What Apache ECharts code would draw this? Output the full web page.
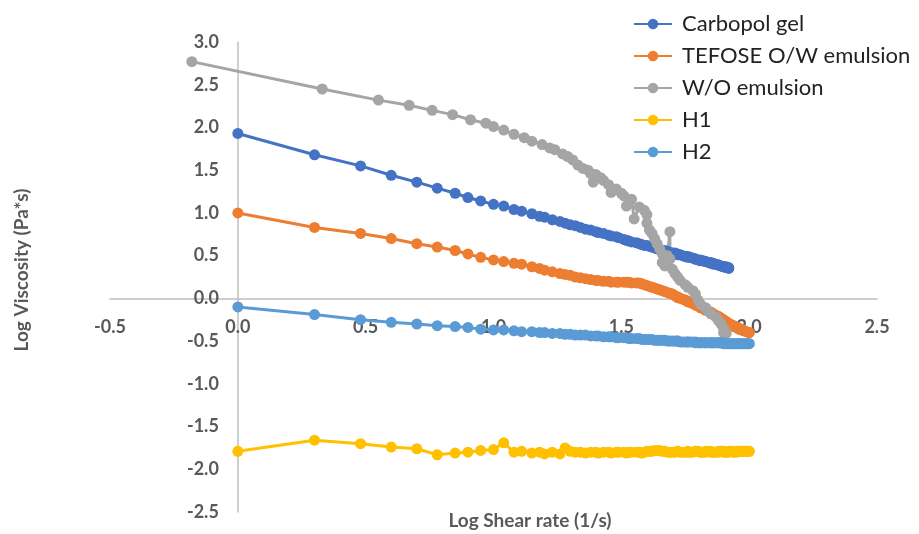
<!DOCTYPE html>
<html>
<head>
<meta charset="utf-8">
<script src="https://cdn.jsdelivr.net/npm/echarts@6/dist/echarts.min.js"></script>
<style>
html,body{margin:0;padding:0;background:#fff;}
#chart{width:919px;height:534px;}
</style>
</head>
<body>
<div id="chart"></div>
<script>
// Log shear rate values for the Carbopol, TEFOSE, H1 and H2 measurements
const shearX = [0.00,0.30,0.48,0.60,0.70,0.78,0.85,0.90,0.95,1.00,
  1.04,1.08,1.11,1.15,1.18,1.20,1.23,1.26,1.28,1.30,
  1.32,1.34,1.36,1.38,1.40,1.41,1.43,1.45,1.46,1.48,
  1.49,1.51,1.52,1.53,1.54,1.56,1.57,1.58,1.59,1.60,
  1.61,1.62,1.63,1.64,1.65,1.66,1.67,1.68,1.69,1.70,
  1.71,1.72,1.72,1.73,1.74,1.75,1.76,1.76,1.77,1.78,
  1.79,1.79,1.80,1.81,1.81,1.82,1.83,1.83,1.84,1.85,
  1.85,1.86,1.86,1.87,1.88,1.88,1.89,1.89,1.90,1.90,
  1.91,1.91,1.92,1.92,1.93,1.93,1.94,1.94,1.95,1.95,
  1.96,1.96,1.97,1.97,1.98,1.98,1.99,1.99,2.00,2.00];

const carbopolY = [1.93,1.68,1.55,1.44,1.36,1.29,1.23,1.18,1.14,1.10,
  1.08,1.04,1.02,0.99,0.96,0.95,0.92,0.90,0.88,0.86,
  0.85,0.83,0.81,0.80,0.78,0.77,0.76,0.74,0.73,0.72,
  0.71,0.69,0.68,0.67,0.66,0.65,0.64,0.63,0.62,0.62,
  0.61,0.60,0.59,0.58,0.57,0.56,0.56,0.55,0.54,0.53,
  0.53,0.52,0.51,0.51,0.50,0.49,0.49,0.48,0.48,0.47,
  0.46,0.46,0.45,0.45,0.44,0.44,0.43,0.43,0.42,0.42,
  0.41,0.41,0.40,0.40,0.39,0.39,0.38,0.38,0.37,0.37,
  0.37,0.36,0.36,0.35];

const tefoseY = [1.00,0.83,0.76,0.70,0.64,0.60,0.56,0.52,0.48,0.45,
  0.43,0.41,0.40,0.37,0.35,0.33,0.31,0.29,0.28,0.27,
  0.25,0.24,0.23,0.22,0.21,0.21,0.20,0.20,0.19,0.19,
  0.19,0.19,0.19,0.19,0.18,0.18,0.18,0.17,0.16,0.15,
  0.14,0.13,0.12,0.11,0.10,0.09,0.08,0.07,0.06,0.05,
  0.03,0.02,0.01,0.00,-0.01,-0.02,-0.03,-0.04,-0.05,-0.06,
  -0.07,-0.08,-0.09,-0.10,-0.11,-0.12,-0.13,-0.14,-0.15,-0.16,
  -0.17,-0.18,-0.19,-0.20,-0.21,-0.22,-0.23,-0.24,-0.25,-0.26,
  -0.27,-0.28,-0.29,-0.30,-0.31,-0.31,-0.32,-0.33,-0.34,-0.34,
  -0.35,-0.36,-0.36,-0.37,-0.38,-0.38,-0.39,-0.39,-0.40,-0.40];

const h1Y = [-1.79,-1.66,-1.70,-1.74,-1.76,-1.83,-1.81,-1.80,-1.78,-1.77,
  -1.69,-1.80,-1.79,-1.81,-1.80,-1.82,-1.80,-1.82,-1.75,-1.79,
  -1.80,-1.80,-1.81,-1.80,-1.80,-1.81,-1.80,-1.80,-1.81,-1.80,
  -1.80,-1.80,-1.81,-1.80,-1.80,-1.80,-1.80,-1.81,-1.80,-1.79,
  -1.79,-1.79,-1.78,-1.78,-1.78,-1.79,-1.79,-1.80,-1.80,-1.80,
  -1.80,-1.79,-1.79,-1.80,-1.80,-1.80,-1.79,-1.80,-1.80,-1.80,
  -1.79,-1.79,-1.79,-1.80,-1.80,-1.80,-1.80,-1.79,-1.79,-1.79,
  -1.80,-1.80,-1.80,-1.80,-1.80,-1.79,-1.79,-1.79,-1.79,-1.80,
  -1.80,-1.80,-1.80,-1.79,-1.79,-1.79,-1.80,-1.80,-1.80,-1.79,
  -1.79,-1.79,-1.79,-1.79,-1.79,-1.79,-1.79,-1.79,-1.79,-1.79];

const h2Y = [-0.10,-0.19,-0.25,-0.28,-0.30,-0.32,-0.33,-0.34,-0.36,-0.37,
  -0.37,-0.38,-0.39,-0.39,-0.40,-0.40,-0.41,-0.41,-0.42,-0.42,
  -0.43,-0.43,-0.43,-0.44,-0.44,-0.44,-0.45,-0.45,-0.45,-0.46,
  -0.46,-0.46,-0.46,-0.47,-0.47,-0.47,-0.47,-0.48,-0.48,-0.48,
  -0.48,-0.48,-0.49,-0.49,-0.49,-0.49,-0.49,-0.50,-0.50,-0.50,
  -0.50,-0.50,-0.50,-0.51,-0.51,-0.51,-0.51,-0.51,-0.51,-0.51,
  -0.52,-0.51,-0.52,-0.52,-0.52,-0.52,-0.52,-0.52,-0.52,-0.52,
  -0.52,-0.52,-0.52,-0.52,-0.52,-0.52,-0.52,-0.52,-0.53,-0.52,
  -0.53,-0.53,-0.53,-0.53,-0.53,-0.53,-0.53,-0.53,-0.53,-0.53,
  -0.53,-0.53,-0.53,-0.53,-0.53,-0.53,-0.53,-0.53,-0.53,-0.53];

// W/O emulsion has its own shear rate points
const woX = [-0.18,0.33,0.55,0.67,0.76,0.84,0.91,0.97,1.00,1.04,
  1.08,1.12,1.15,1.19,1.22,1.24,1.27,1.29,1.31,1.33,
  1.35,1.37,1.38,1.39,1.40,1.42,1.43,1.45,1.46,1.48,
  1.50,1.51,1.52,1.54,1.55,1.57,1.59,1.60,1.60,1.61,
  1.62,1.63,1.64,1.65,1.66,1.66,1.67,1.68,1.69,1.69,
  1.70,1.71,1.72,1.73,1.75,1.76,1.78,1.79,1.80,1.81,
  1.83,1.84,1.85,1.87,1.88,1.89,1.90,1.90,1.91];
const woY = [2.77,2.45,2.32,2.26,2.20,2.15,2.09,2.05,2.01,1.97,
  1.92,1.88,1.84,1.80,1.76,1.74,1.69,1.66,1.62,1.56,
  1.52,1.50,1.46,1.36,1.45,1.41,1.38,1.33,1.24,1.28,
  1.23,1.20,1.08,1.16,0.93,1.07,1.03,0.98,0.88,0.80,
  0.76,0.70,0.64,0.58,0.52,0.42,0.38,0.50,0.78,0.46,
  0.34,0.29,0.25,0.21,0.16,0.13,0.09,0.05,-0.02,-0.07,
  -0.11,-0.15,-0.18,-0.22,-0.26,-0.30,-0.35,-0.40,-0.41];

const seriesNames = ['Carbopol gel','TEFOSE O/W emulsion','W/O emulsion','H1','H2'];
const seriesColors = ['#4472C4','#ED7D31','#A5A5A5','#FFC000','#5B9BD5'];
const xTicks = {min:-0.5, max:2.5, step:0.5};
const yTicks = {min:-2.5, max:3.0, step:0.5};

function pairs(xs, ys){ return ys.map((y,i)=>[xs[i], y]); }

const seriesData = [
  pairs(shearX, carbopolY),
  pairs(shearX, tefoseY),
  pairs(woX, woY),
  pairs(shearX, h1Y),
  pairs(shearX, h2Y)
];

const W = 919, H = 534;
const G = {left:110, right:42, top:42, bottom:22};
const plotW = W - G.left - G.right, plotH = H - G.top - G.bottom;
// shift each axis so that it crosses the other one at zero (as in the original)
const xAxisOffset = -plotH * (0 - yTicks.min) / (yTicks.max - yTicks.min);
const yAxisOffset = -plotW * (0 - xTicks.min) / (xTicks.max - xTicks.min);

const chart = echarts.init(document.getElementById('chart'), null, {renderer:'canvas'});
const axisCol = '#595959';
const fontFam = 'Lato, "Open Sans", sans-serif';

chart.setOption({
  animation:false,
  backgroundColor:'#fff',
  grid:{left:G.left, right:G.right, top:G.top, bottom:G.bottom, containLabel:false},
  xAxis:{
    type:'value', min:xTicks.min, max:xTicks.max, interval:xTicks.step,
    position:'bottom', offset:xAxisOffset,
    axisLine:{onZero:false, lineStyle:{color:'#bfbfbf', width:1.5}},
    axisTick:{show:false},
    splitLine:{show:false},
    axisLabel:{color:axisCol, fontWeight:'bold', fontSize:18, fontFamily:fontFam, margin:20,
      formatter:v=>v.toFixed(1)}
  },
  yAxis:{
    type:'value', min:yTicks.min, max:yTicks.max, interval:yTicks.step,
    position:'left', offset:yAxisOffset,
    axisLine:{onZero:false, lineStyle:{color:'#bfbfbf', width:1.5}},
    axisTick:{show:false},
    splitLine:{show:false},
    axisLabel:{color:axisCol, fontWeight:'bold', fontSize:18, fontFamily:fontFam, margin:19,
      formatter:v=>v.toFixed(1)}
  },
  legend:{
    orient:'vertical', left:628, top:7,
    itemWidth:38, itemHeight:13, itemGap:8,
    textStyle:{color:'#222', fontSize:22, fontFamily:fontFam, lineHeight:24, padding:[0,0,0,5]},
    data:seriesNames
  },
  graphic:[
    {type:'text', x:22, y:270, rotation:Math.PI/2,
      style:{text:'Log Viscosity (Pa*s)', fill:axisCol, font:'bold 19px Lato, "Open Sans", sans-serif',
        align:'center', verticalAlign:'middle', textAlign:'center', textVerticalAlign:'middle'}},
    {type:'text', x:530, y:521,
      style:{text:'Log Shear rate (1/s)', fill:axisCol, font:'bold 19px Lato, "Open Sans", sans-serif',
        align:'center', verticalAlign:'middle', textAlign:'center', textVerticalAlign:'middle'}}
  ],
  series: seriesNames.map((name,i)=>({
    name:name, type:'line', data:seriesData[i],
    symbol:'circle', symbolSize:11, showSymbol:true,
    lineStyle:{width:3, color:seriesColors[i]},
    itemStyle:{color:seriesColors[i]},
    emphasis:{disabled:true}
  }))
});
</script>
</body>
</html>
